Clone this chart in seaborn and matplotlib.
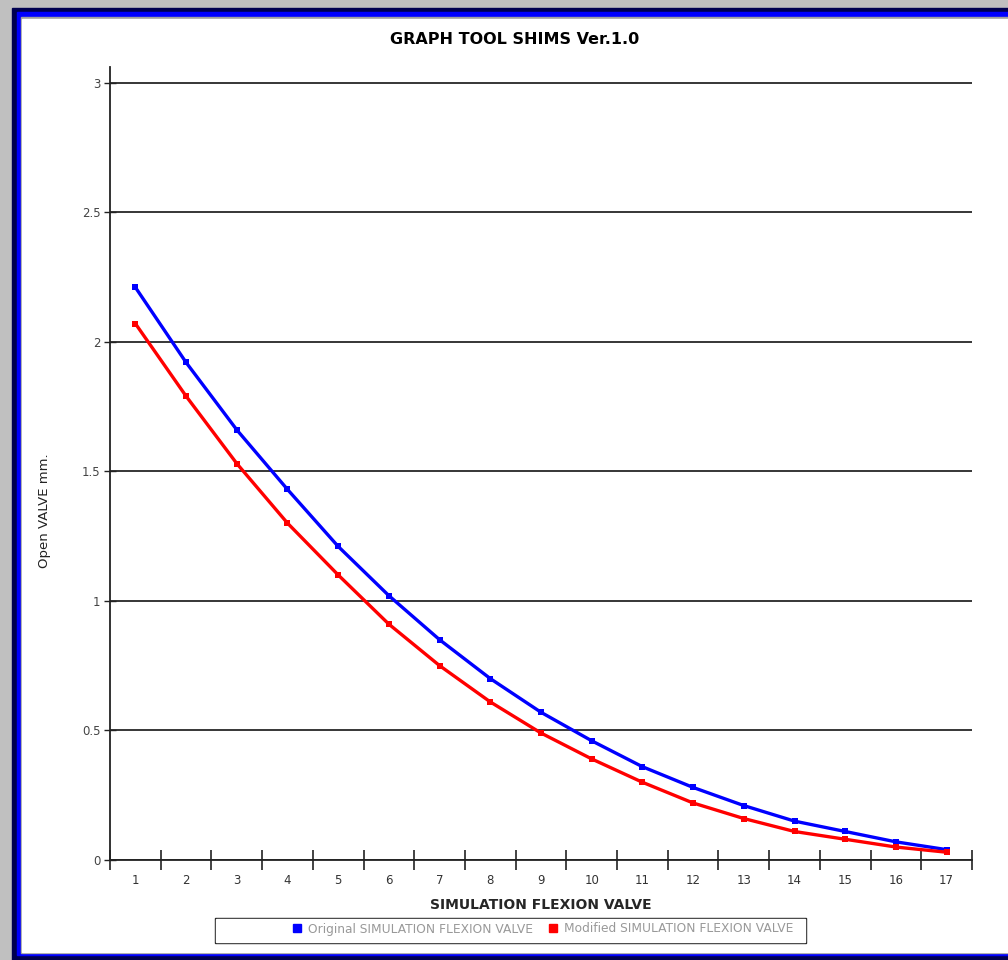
import matplotlib
matplotlib.use("Agg")
from matplotlib import pyplot as plt
from matplotlib.patches import Rectangle
import pandas as pd
import seaborn as sns
import numpy as np

# values
steps = list(range(1, 18))
original_valve = [2.21, 1.92, 1.66, 1.43, 1.21, 1.02, 0.85, 0.70, 0.57, 0.46,
                  0.36, 0.28, 0.21, 0.15, 0.11, 0.07, 0.04]
modified_valve = [2.07, 1.79, 1.53, 1.30, 1.10, 0.91, 0.75, 0.61, 0.49, 0.39,
                  0.30, 0.22, 0.16, 0.11, 0.08, 0.05, 0.03]
series_names = ["Original SIMULATION FLEXION VALVE", "Modified SIMULATION FLEXION VALVE"]
y_ticks = [0, 0.5, 1, 1.5, 2, 2.5, 3]
y_labels = ["0", "0.5", "1", "1.5", "2", "2.5", "3"]

df = pd.DataFrame({
    "step": steps * 2,
    "open": original_valve + modified_valve,
    "series": [series_names[0]] * len(steps) + [series_names[1]] * len(steps),
})

sns.set_style("white")
plt.rcParams['font.family'] = ['DejaVu Sans']

fig = plt.figure(figsize=(10.08, 9.6), dpi=100, facecolor="#c0c0c0")

# window frame around the chart
W, H = 1008, 960
def frect(x0, y0, x1, y1, color):
    fig.patches.append(Rectangle((x0 / W, 1 - y1 / H), (x1 - x0) / W, (y1 - y0) / H,
                                 transform=fig.transFigure, color=color, zorder=-10))
frect(12, 8, 1008, 960, "#000050")
frect(17, 12, 1008, 955, "#0000ff")
frect(21, 17, 1008, 953, "#a0a0a0")
frect(22, 19, 1008, 952, "white")

ax = fig.add_axes([110 / W, 1 - 860 / H, (972 - 110) / W, (860 - 67) / H])
ax.set_facecolor("none")

sns.lineplot(data=df, x="step", y="open", hue="series", ax=ax,
             palette={series_names[0]: "#0000ff", series_names[1]: "#ff0000"},
             marker="s", markersize=5, markeredgewidth=0, linewidth=2.4, legend=False)

ax.set_xlim(0.5, 17.5)
ax.set_ylim(0, 3.06)
ax.set_yticks(y_ticks)
ax.set_yticklabels(y_labels)
ax.set_xticks(steps)
ax.set_xticklabels([str(s) for s in steps])
ax.set_xticks(np.arange(0.5, 18, 1), minor=True)
ax.tick_params(bottom=True, left=True, which="both")
ax.tick_params(axis="x", which="major", length=0, pad=10, labelsize=8.5, labelcolor="#333333")
ax.tick_params(axis="x", which="minor", length=14, direction="inout", width=1.2, color="#222222")
ax.tick_params(axis="y", which="major", length=8, direction="inout", width=1, color="#222222",
               labelsize=8.5, labelcolor="#444444", pad=3)
ax.yaxis.grid(True, color="black", linewidth=1.1)
ax.set_axisbelow(True)
for side in ["top", "right"]:
    ax.spines[side].set_visible(False)
for side in ["left", "bottom"]:
    ax.spines[side].set_color("#222222")
    ax.spines[side].set_linewidth(1.3)

ax.set_ylabel("Open VALVE mm.", fontsize=9.5, color="#222222")
ax.yaxis.set_label_coords(-0.068, 0.44)
ax.set_xlabel("SIMULATION FLEXION VALVE", fontsize=10, fontweight="bold", labelpad=8)

fig.text(515 / W, 1 - 40 / H, "GRAPH TOOL SHIMS Ver.1.0", ha="center", va="center",
         fontsize=11.5, fontweight="bold", color="black")

# legend box
frect(215, 918, 806, 943, "#222222")
frect(216, 919, 805, 942, "white")
handles = [plt.Line2D([], [], marker="s", linestyle="", color=c, markersize=5.5)
           for c in ["#0000ff", "#ff0000"]]
leg = fig.legend(handles, series_names, loc="center", bbox_to_anchor=(543 / W, 1 - 929 / H),
                 ncol=2, frameon=False, fontsize=8.8, handletextpad=0.5, columnspacing=1.2,
                 handlelength=0.8)
for t in leg.get_texts():
    t.set_color("#999999")

fig.savefig("out.png", dpi=100, facecolor=fig.get_facecolor())
